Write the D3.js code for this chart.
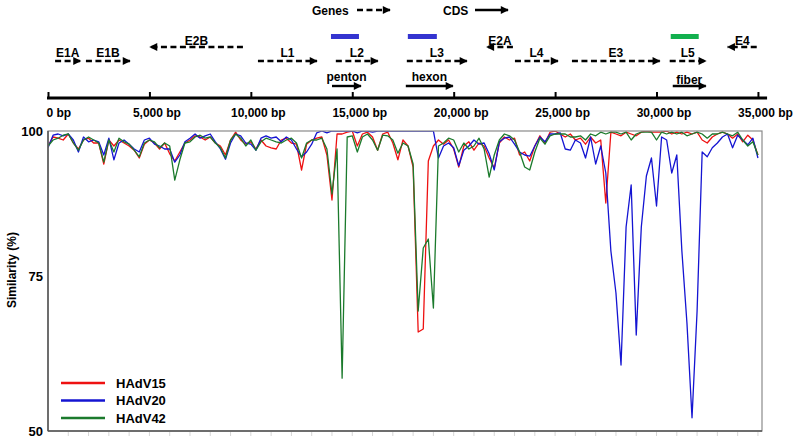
<!DOCTYPE html>
<html>
<head>
<meta charset="utf-8">
<script src="https://cdn.jsdelivr.net/npm/d3@7"></script>
<style>
  body { margin: 0; background: #fff; }
  svg text { font-family: Arial, "Liberation Sans", sans-serif; font-weight: bold; fill: #000; }
</style>
</head>
<body>
<svg id="chart" width="800" height="440"></svg>
<script>
// sampling grid of the similarity plot (bp)
const positions = d3.range(0, 35001, 250);

const hadv15 = [97.5,99,98.8,98.5,99.5,98,97,98.5,98.8,98,98,94.5,98.5,97.5,98.5,98,97.5,96.8,95.5,97.8,
  98.5,98,97,98,96.2,95,96.5,98,98.5,99.2,99,98.5,99,98,97.5,96,98.5,99.8,98.5,97.8,
  98.2,97,98.5,97.5,97.2,97,98.5,98.8,98,97.8,93.5,97.8,98.5,98.8,99,96,88.5,99.5,99.5,99.8,
  100,97.5,99.5,99.8,99,96.8,99.5,99.8,98,95.2,98.5,97.5,94,66.5,67,95,97.5,98.5,97.8,98.5,
  97,94,97.5,98.2,96.8,98,97.5,95.5,93.8,98,99,98.5,98.8,96,96.5,95,97.5,99.2,98,99.8,
  100,99.5,99,99.5,98.5,98.8,97.8,99,98,98.5,88,99.8,99.5,99.2,99.8,99.5,99.2,99.8,100,99.8,
  99.8,99.8,100,99.5,99.8,99.5,99.8,99.5,99.8,98.5,98,99,99.5,99.8,99.5,98.8,99.5,98.2,99.3,98.5,
  96];

const hadv20 = [97.2,99.3,99.5,99.2,99.5,98.5,96.5,99,98.2,98.5,98.2,96,98.8,95.2,98,98.5,97.8,97,96.5,98.5,
  98.8,97.8,97.5,97,97,94.8,96,98.2,98.8,99.5,98.8,99.2,99.5,98.2,97,95.3,98,99.5,99.2,98,
  97.8,96.8,98.8,99.2,98.8,99,98.2,99,98.5,97,95.7,96.5,97.8,99.7,100,99.7,100,100,100,100,
  100,99.7,100,100,99.8,100,100,100,100,100,100,100,100,100,100,100,100,95.5,97.5,98,
  97.2,94.2,96.8,97.5,98.5,97.8,98,96.2,93.5,98.2,98.8,99,97.8,96.5,96,95.8,97.5,99,98.2,99.5,
  99.5,99.7,97,96.8,98.5,98,95.5,99,94.5,97.5,93,80,73,61,84,91,66,84,92.5,95.5,
  87.5,99,98.5,93,96,80,68,52.2,70,96.5,95.7,97.2,98,99,99.5,97.2,99.3,98.5,97.7,98.8,
  95.5];

const hadv42 = [97.5,98.5,98.8,99.3,99.5,98,96.8,98.5,99,98.5,98,94.8,98.5,96.5,98.8,98.2,97.8,96.8,95.7,98,
  98.5,98.2,97.2,98,97.5,91.8,95.2,98,98.2,99,99.3,98.8,99,98,97.2,95.5,98.5,99.5,98.8,97.5,
  98.5,96.8,98.2,98.8,98.5,98.2,98,98.5,98.8,98,95.5,98,98.5,98.5,98.8,97,89.5,97,58.8,99,
  99.2,96.5,99,99.5,98.5,96.8,99.3,99.2,98.5,96.3,98,97.5,94.5,70,80.5,82,70.5,97.5,98,98.8,
  98.5,96.5,98,97,97.5,98.8,97,92.3,96,98.5,99.5,99.2,98.5,96.5,94,93.5,96.5,98.8,97.8,99.2,
  99.5,99.5,99.5,99,99,99.2,98.5,99.5,99.2,99.8,99.5,99.8,99.8,99.5,99.8,98.5,99.5,99.8,99.8,99.8,
  98.5,99.8,99.5,99.8,99.5,99.8,99.2,99.5,99.8,99.5,98.8,99.5,99.5,99.8,99.5,99.2,99.8,98.5,97.5,98.2,
  96];

const seriesNames = ['HAdV15', 'HAdV20', 'HAdV42'];
const seriesValues = [hadv15, hadv20, hadv42];

// genome map
const geneNames = ['E1A', 'E1B', 'E2B', 'L1', 'L2', 'L3', 'E2A', 'L4', 'E3', 'L5', 'E4'];
const geneStart = [350, 1870, 5030, 10350, 14190, 17690, 21640, 23020, 25830, 30650, 33510];
const geneEnd = [1600, 4040, 9610, 13260, 16260, 20650, 22920, 25140, 30160, 32430, 34940];
const geneStrand = [1, 1, -1, 1, 1, 1, -1, 1, 1, 1, -1];

const cdsNames = ['penton', 'hexon', 'fiber'];
const cdsStart = [14000, 17640, 30800];
const cdsEnd = [15430, 19960, 32430];

// recombinant regions, marked by the series they come from
const regionStart = [13950, 17740, 30700];
const regionEnd = [15330, 19170, 32080];
const regionSeries = ['HAdV20', 'HAdV20', 'HAdV42'];

const genomeTicks = [0, 5000, 10000, 15000, 20000, 25000, 30000, 35000];
const simTicks = [50, 75, 100];

const LINE_COLORS = { HAdV15: '#ee1111', HAdV20: '#1414d2', HAdV42: '#1b7a2c' };
const BAR_COLORS = { HAdV20: '#3434d0', HAdV42: '#12b04e' };

const svg = d3.select('#chart');
const x = d3.scaleLinear().domain([0, 35200]).range([48, 762]);
const y = d3.scaleLinear().domain([50, 100]).range([431, 131]);

const defs = svg.append('defs');
// arrow head
defs.append('marker')
  .attr('id', 'head')
  .attr('viewBox', '0 0 10 10')
  .attr('refX', 9).attr('refY', 5)
  .attr('markerUnits', 'userSpaceOnUse')
  .attr('markerWidth', 9).attr('markerHeight', 8)
  .attr('orient', 'auto')
  .append('path').attr('d', 'M0,0 L10,5 L0,10 Z').attr('fill', '#000');
// plot area clip, lines at 100 sit under the frame
defs.append('clipPath').attr('id', 'plot-clip')
  .append('rect')
  .attr('x', x(0)).attr('y', y(100))
  .attr('width', x(35200) - x(0)).attr('height', y(50) - y(100));

// header legend
const hdr = svg.append('g');
hdr.append('text').attr('x', 312).attr('y', 14.5).attr('font-size', 12).text('Genes');
hdr.append('line').attr('x1', 357).attr('x2', 390).attr('y1', 10).attr('y2', 10)
  .attr('stroke', '#000').attr('stroke-width', 2.4).attr('stroke-dasharray', '6,3.5')
  .attr('marker-end', 'url(#head)');
hdr.append('text').attr('x', 443).attr('y', 14.5).attr('font-size', 12).text('CDS');
hdr.append('line').attr('x1', 475).attr('x2', 508).attr('y1', 10).attr('y2', 10)
  .attr('stroke', '#000').attr('stroke-width', 2.4)
  .attr('marker-end', 'url(#head)');

// coloured region bars
svg.append('g').selectAll('rect')
  .data(regionStart)
  .join('rect')
  .attr('x', (d, i) => x(d))
  .attr('width', (d, i) => x(regionEnd[i]) - x(d))
  .attr('y', 34).attr('height', 5)
  .attr('fill', (d, i) => BAR_COLORS[regionSeries[i]]);

// genes
const genes = svg.append('g');
genes.selectAll('line')
  .data(geneNames)
  .join('line')
  .attr('x1', (d, i) => geneStrand[i] > 0 ? x(geneStart[i]) : x(geneEnd[i]))
  .attr('x2', (d, i) => geneStrand[i] > 0 ? x(geneEnd[i]) : x(geneStart[i]))
  .attr('y1', (d, i) => geneStrand[i] > 0 ? 61 : 47)
  .attr('y2', (d, i) => geneStrand[i] > 0 ? 61 : 47)
  .attr('stroke', '#000').attr('stroke-width', 2.4)
  .attr('stroke-dasharray', '6,3.5')
  .attr('marker-end', 'url(#head)');
genes.selectAll('text')
  .data(geneNames)
  .join('text')
  .attr('x', (d, i) => x((geneStart[i] + geneEnd[i]) / 2))
  .attr('y', (d, i) => geneStrand[i] > 0 ? 56.5 : 44.5)
  .attr('text-anchor', 'middle').attr('font-size', 12)
  .text(d => d);

// coding sequences
const cds = svg.append('g');
cds.selectAll('line')
  .data(cdsNames)
  .join('line')
  .attr('x1', (d, i) => x(cdsStart[i]))
  .attr('x2', (d, i) => x(cdsEnd[i]))
  .attr('y1', 86).attr('y2', 86)
  .attr('stroke', '#000').attr('stroke-width', 2.4)
  .attr('marker-end', 'url(#head)');
cds.selectAll('text')
  .data(cdsNames)
  .join('text')
  .attr('x', (d, i) => x((cdsStart[i] + cdsEnd[i]) / 2))
  .attr('y', (d, i) => d === 'fiber' ? 84 : 81)
  .attr('text-anchor', 'middle').attr('font-size', 12)
  .text(d => d);

// genome axis
const gAxis = svg.append('g').attr('transform', 'translate(0,98)');
gAxis.call(d3.axisBottom(x).tickValues(genomeTicks).tickSizeInner(-6).tickSizeOuter(0).tickPadding(10)
  .tickFormat(d => d3.format(',')(d) + ' bp'));
gAxis.select('.domain').remove();
gAxis.selectAll('.tick line').attr('stroke', '#000').attr('stroke-width', 2);
gAxis.selectAll('.tick text')
  .attr('font-size', 12).attr('font-family', null)
  .attr('text-anchor', d => d === 0 ? 'start' : 'middle')
  .attr('dx', d => d === 0 ? -2 : 7);
gAxis.append('line').attr('x1', x(0) - 1).attr('x2', x(35450)).attr('y1', 0).attr('y2', 0)
  .attr('stroke', '#000').attr('stroke-width', 3);

// similarity plot
const plot = svg.append('g');

// faint minor ticks under the plot
plot.append('g').selectAll('line')
  .data(d3.range(1000, 35001, 1000))
  .join('line')
  .attr('x1', d => x(d)).attr('x2', d => x(d))
  .attr('y1', y(50) + 1).attr('y2', y(50) + 5)
  .attr('stroke', '#d6d6d6').attr('stroke-width', 1);

const line = d3.line()
  .x((d, i) => x(positions[i]))
  .y(d => y(d));

plot.append('g').attr('clip-path', 'url(#plot-clip)')
  .selectAll('path')
  .data(seriesValues)
  .join('path')
  .attr('d', line)
  .attr('fill', 'none')
  .attr('stroke', (d, i) => LINE_COLORS[seriesNames[i]])
  .attr('stroke-width', 1.3)
  .attr('stroke-linejoin', 'round');

plot.append('rect').attr('x', x(0)).attr('y', y(100))
  .attr('width', x(35200) - x(0)).attr('height', y(50) - y(100))
  .attr('fill', 'none').attr('stroke', '#8a8a8a').attr('stroke-width', 1.2);
plot.append('line').attr('x1', x(0)).attr('x2', x(0)).attr('y1', y(100)).attr('y2', y(50))
  .attr('stroke', '#555').attr('stroke-width', 1.5);
plot.append('line').attr('x1', x(0)).attr('x2', x(35200)).attr('y1', y(50)).attr('y2', y(50))
  .attr('stroke', '#555').attr('stroke-width', 1.5);

const yAxis = svg.append('g').attr('transform', `translate(${x(0)},0)`);
yAxis.call(d3.axisLeft(y).tickValues(simTicks).tickSize(0).tickPadding(5));
yAxis.select('.domain').remove();
yAxis.selectAll('.tick text').attr('font-size', 13).attr('font-family', null)
  .attr('dy', d => d === 75 ? '-0.05em' : '0.32em');

svg.append('text')
  .attr('transform', 'translate(16,270) rotate(-90)')
  .attr('text-anchor', 'middle').attr('font-size', 12)
  .text('Similarity (%)');

// legend
const legend = svg.append('g');
legend.selectAll('line')
  .data(seriesNames)
  .join('line')
  .attr('x1', 61).attr('x2', 105)
  .attr('y1', (d, i) => 383 + i * 17.5).attr('y2', (d, i) => 383 + i * 17.5)
  .attr('stroke', d => LINE_COLORS[d]).attr('stroke-width', 2.5);
legend.selectAll('text')
  .data(seriesNames)
  .join('text')
  .attr('x', 116).attr('y', (d, i) => 383 + i * 17.5)
  .attr('dy', '0.36em').attr('font-size', 13)
  .text(d => d);
</script>
</body>
</html>
